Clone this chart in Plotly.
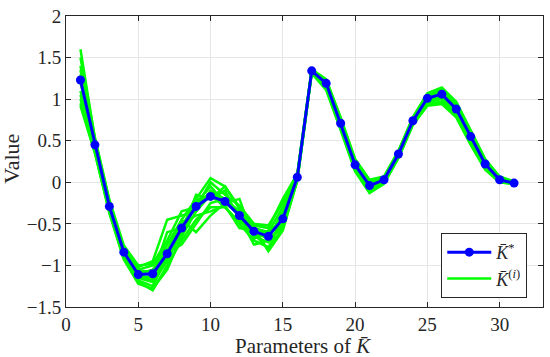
import plotly.graph_objects as go

params = list(range(1, 32))

k_star = [1.23, 0.45, -0.29, -0.84, -1.11, -1.10, -0.86, -0.55, -0.29, -0.17, -0.23, -0.40, -0.59, -0.65, -0.44, 0.06,
          1.34, 1.19, 0.71, 0.21, -0.04, 0.03, 0.34, 0.74, 1.01, 1.06, 0.88, 0.55, 0.22, 0.03, -0.01]

sample_01 = [1.60, 0.52, -0.22, -0.80, -1.05, -1.00, -0.75, -0.45, -0.20, 0.05, -0.05, -0.30, -0.55, -0.60, -0.30, 0.08, 1.35, 1.22, 0.75, 0.25, 0.00, 0.05, 0.37, 0.77, 1.05, 1.12, 0.95, 0.62, 0.27, 0.06, 0.00]
sample_02 = [0.92, 0.35, -0.36, -0.92, -1.20, -1.30, -1.00, -0.70, -0.45, -0.30, -0.30, -0.50, -0.70, -0.78, -0.55, 0.02, 1.32, 1.12, 0.64, 0.15, -0.10, 0.00, 0.30, 0.70, 0.94, 0.97, 0.80, 0.48, 0.17, 0.01, -0.01]
sample_03 = [1.40, 0.50, -0.25, -0.78, -1.02, -0.95, -0.45, -0.40, -0.35, -0.10, -0.20, -0.35, -0.52, -0.55, -0.20, 0.10, 1.36, 1.24, 0.78, 0.28, 0.03, 0.07, 0.38, 0.78, 1.06, 1.10, 0.93, 0.60, 0.26, 0.05, 0.01]
sample_04 = [1.05, 0.40, -0.33, -0.88, -1.15, -1.20, -0.95, -0.60, -0.15, -0.20, -0.10, -0.45, -0.65, -0.72, -0.50, 0.04, 1.33, 1.15, 0.66, 0.18, -0.07, 0.01, 0.32, 0.72, 0.96, 1.00, 0.83, 0.50, 0.19, 0.02, -0.02]
sample_05 = [1.30, 0.48, -0.27, -0.82, -1.10, -1.05, -0.80, -0.65, -0.25, -0.05, -0.25, -0.38, -0.62, -0.80, -0.40, 0.07, 1.34, 1.20, 0.72, 0.22, -0.03, 0.04, 0.35, 0.75, 1.02, 1.08, 0.90, 0.57, 0.23, 0.04, -0.01]
sample_06 = [1.10, 0.42, -0.31, -0.86, -1.18, -1.25, -0.90, -0.50, -0.40, -0.35, -0.28, -0.55, -0.58, -0.62, -0.45, 0.05, 1.33, 1.17, 0.68, 0.19, -0.06, 0.02, 0.33, 0.73, 0.98, 1.02, 0.85, 0.52, 0.20, 0.02, -0.01]
sample_07 = [1.50, 0.54, -0.21, -0.76, -1.00, -0.98, -0.70, -0.35, -0.30, 0.00, -0.15, -0.28, -0.50, -0.52, -0.25, 0.09, 1.35, 1.23, 0.77, 0.27, 0.02, 0.06, 0.37, 0.78, 1.07, 1.14, 0.97, 0.63, 0.28, 0.07, 0.01]
sample_08 = [1.00, 0.38, -0.35, -0.90, -1.12, -1.15, -0.85, -0.75, -0.50, -0.25, -0.20, -0.42, -0.75, -0.70, -0.52, 0.03, 1.32, 1.14, 0.65, 0.16, -0.12, -0.01, 0.30, 0.70, 0.93, 0.95, 0.79, 0.46, 0.16, 0.00, -0.02]
sample_09 = [1.20, 0.46, -0.28, -0.84, -1.08, -1.12, -0.60, -0.55, -0.20, -0.20, -0.05, -0.32, -0.60, -0.68, -0.35, 0.06, 1.34, 1.19, 0.71, 0.21, -0.04, 0.03, 0.34, 0.74, 1.00, 1.05, 0.87, 0.54, 0.22, 0.03, -0.01]
sample_10 = [1.35, 0.49, -0.24, -0.80, -1.06, -1.08, -0.82, -0.45, -0.60, -0.40, -0.25, -0.20, -0.68, -0.58, -0.48, 0.07, 1.34, 1.21, 0.73, 0.23, -0.02, 0.04, 0.35, 0.76, 1.03, 1.09, 0.91, 0.58, 0.24, 0.04, 0.00]
sample_11 = [0.95, 0.36, -0.37, -0.93, -1.22, -1.28, -1.05, -0.65, -0.35, -0.15, -0.30, -0.48, -0.55, -0.83, -0.58, 0.02, 1.31, 1.11, 0.63, 0.13, -0.13, -0.02, 0.29, 0.69, 0.92, 0.94, 0.78, 0.45, 0.15, 0.00, -0.02]
sample_12 = [1.25, 0.44, -0.30, -0.85, -1.13, -1.18, -0.88, -0.52, -0.28, -0.12, -0.22, -0.40, -0.60, -0.66, -0.42, 0.06, 1.34, 1.18, 0.70, 0.20, -0.05, 0.03, 0.34, 0.74, 1.01, 1.06, 0.88, 0.55, 0.22, 0.03, -0.01]

samples = [sample_01, sample_02, sample_03, sample_04, sample_05, sample_06,
           sample_07, sample_08, sample_09, sample_10, sample_11, sample_12]

x_ticks = [0, 5, 10, 15, 20, 25, 30]
y_ticks = [-1.5, -1, -0.5, 0, 0.5, 1, 1.5, 2]
y_tick_text = ["\u22121.5", "\u22121", "\u22120.5", "0", "0.5", "1", "1.5", "2"]

x_title = "Parameters of <i>K̄</i>"
y_title = "Value"

SERIF = "Liberation Serif"
TXT = "#262626"

fig = go.Figure()
for i, s in enumerate(samples):
    fig.add_trace(go.Scatter(
        x=params, y=s, mode="lines",
        line=dict(color="#00ff00", width=2.5),
        name="<i>K̄</i><sup>(<i>i</i>)</sup>",
        legendgroup="samples", showlegend=(i == 0), legendrank=2,
    ))

fig.add_trace(go.Scatter(
    x=params, y=k_star, mode="lines+markers",
    line=dict(color="#0000ff", width=3),
    marker=dict(color="#0000ff", size=9),
    name="<i>K̄</i><sup>*</sup>", legendrank=1,
))

axis_common = dict(
    showgrid=True, gridcolor="#e6e6e6", gridwidth=1,
    zeroline=False, showline=True, linecolor=TXT, linewidth=1,
    mirror="ticks", ticks="inside", ticklen=5, tickcolor=TXT,
    tickfont=dict(family=SERIF, size=19, color=TXT),
)

fig.update_xaxes(range=[0, 33], tickvals=x_ticks, **axis_common)
fig.update_yaxes(range=[-1.5, 2], tickvals=y_ticks, ticktext=y_tick_text, **axis_common)

fig.add_annotation(text=x_title, xref="paper", yref="paper", x=0.496, y=-0.133,
                   xanchor="center", yanchor="middle", showarrow=False,
                   font=dict(family=SERIF, size=21, color=TXT))
fig.add_annotation(text=y_title, xref="paper", yref="paper", x=-0.115, y=0.51,
                   xanchor="center", yanchor="middle", showarrow=False, textangle=-90,
                   font=dict(family=SERIF, size=22, color=TXT))

fig.update_layout(
    width=550, height=357,
    margin=dict(l=66, r=6, t=11, b=50),
    plot_bgcolor="white", paper_bgcolor="white",
    font=dict(family=SERIF),
    legend=dict(
        x=0.967, y=0.031, xanchor="right", yanchor="bottom",
        bgcolor="white", bordercolor=TXT, borderwidth=1,
        font=dict(family=SERIF, size=18, color=TXT),
        tracegroupgap=0, itemwidth=44,
    ),
)

fig.write_html("out.html", config={"displayModeBar": False},
               post_script="document.body.style.margin='0px';document.body.style.overflow='hidden';")
